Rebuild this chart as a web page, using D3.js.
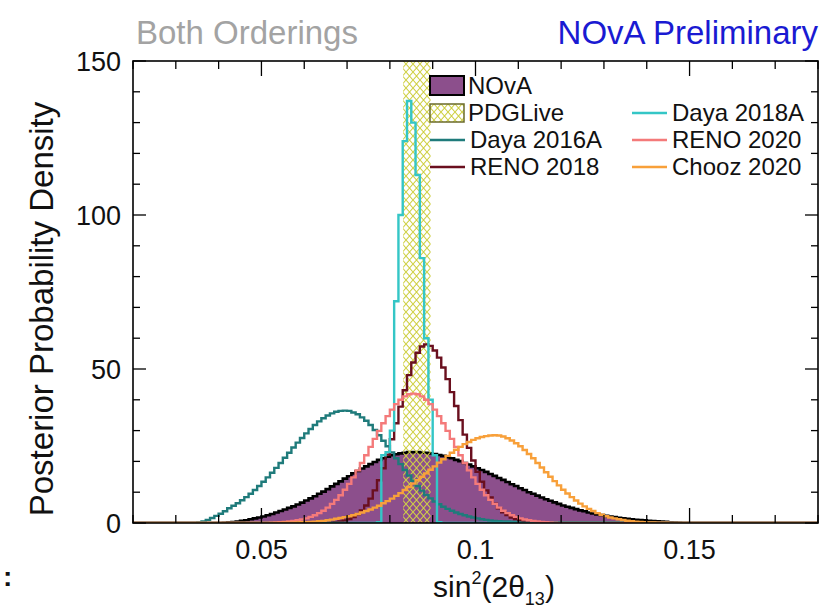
<!DOCTYPE html>
<html><head><meta charset="utf-8">
<script src="https://cdn.jsdelivr.net/npm/d3@7"></script>
<style>
body{margin:0;background:#fff}
svg{display:block}
text{font-family:"Liberation Sans",Arial,Helvetica,sans-serif}
</style>
</head><body>
<svg id="c" width="838" height="614"></svg>
<script>
// ---------------- data ----------------
const xDomain = [0.02, 0.18];
const yDomain = [0, 150];
const binWidth = 0.001;

const xMajorTicks = [0.05, 0.1, 0.15];
const xTickLabels = ["0.05", "0.1", "0.15"];
const yMajorTicks = [0, 50, 100, 150];
const yTickLabels = ["0", "50", "100", "150"];

const pdgBand = [0.0831, 0.0895];

const novaStart = 0.041;
const novaValues = [0.1,0.2,0.3,0.5,0.7,0.9,1.2,1.5,1.8,2.1,2.5,2.9,3.4,3.9,4.4,4.9,5.4,6.0,6.6,7.3,
  8.0,8.7,9.5,10.2,11.0,11.9,12.7,13.5,14.4,15.2,16.1,16.9,17.7,18.4,19.1,19.8,20.5,21.0,21.5,22.0,
  22.3,22.6,22.8,23.0,23.0,
  23.0,22.9,22.8,22.6,22.4,22.1,21.8,21.4,21.0,20.5,20.1,19.5,19.0,18.4,17.8,17.2,16.6,15.9,15.3,14.6,
  14.0,13.3,12.6,12.0,11.3,10.7,10.0,9.5,8.9,8.3,7.7,7.2,6.7,6.2,5.7,5.3,4.9,4.5,4.1,3.8,
  3.4,3.1,2.8,2.6,2.3,2.1,1.9,1.7,1.5,1.35,1.2,1.05,0.95,0.85,0.75,0.65,0.55,0.45,0.35,0.25,0.15,0.1];

const daya2016Start = 0.035;
const daya2016Values = [0.2,0.5,1.0,1.6,2.3,3.0,3.8,4.8,5.6,6.4,7.4,8.4,9.5,10.7,12.0,13.4,14.8,16.3,17.9,19.5,
  21.2,22.8,24.5,26.1,27.6,29.1,30.5,31.8,33.0,34.0,34.9,35.6,36.1,36.4,36.5,
  36.4,35.9,35.3,34.3,33.2,31.8,30.2,28.5,26.7,24.9,22.9,21.0,19.1,17.2,15.4,13.7,12.0,10.5,9.1,
  8.0,7.0,6.1,5.3,4.6,4.0,3.4,2.9,2.5,2.1,1.8,1.5,1.2,1.0,0.8,0.7,0.6,0.5,0.5,0.4,0.4,0.4,
  0.3,0.3,0.3,0.3,0.3,0.3,0.3,0.3,0.3,0.3,0.3,0.3,0.3,0.3,0.3,0.3,0.3,0.3,0.3,0.3,0.3,0.3,0.3,0.3,0.3,0.3];

const daya2018Start = 0.077;
const daya2018Values = [0.3,22,23,30,72,100,124,137,130,113,86,60,40,22,0.3];

const reno2018Start = 0.066;
const reno2018Values = [0.2,0.3,0.5,0.8,1.3,1.9,2.8,4.1,5.7,7.9,10.6,13.9,17.8,22.2,27.2,32.4,37.8,43.1,48.0,52.1,55.3,57.3,
  58.0,
  57.5,56.0,53.7,50.5,46.7,42.5,38.0,33.4,28.7,24.4,20.3,16.6,13.4,10.6,8.3,6.3,4.8,3.5,2.6,1.8,1.3,0.9,0.6,0.4,0.26,0.17,0.1];

const reno2020Start = 0.052;
const reno2020Values = [0.12,0.18,0.25,0.35,0.48,0.65,0.87,1.16,1.5,2.0,2.5,3.2,4.0,5.0,6.2,7.5,9.0,10.8,12.7,14.8,17.1,19.5,22.0,24.7,27.3,29.9,32.4,34.7,36.8,38.6,40.0,41.1,41.8,
  42.0,
  41.8,41.1,40.0,38.6,36.8,34.7,32.4,29.9,27.3,24.7,22.0,19.5,17.1,14.8,12.7,10.8,9.0,7.5,6.2,5.0,4.0,3.2,2.5,2.0,1.5,1.16,0.87,0.65,0.48,0.35,0.25,0.18,0.12];

const chooz2020Start = 0.054;
const chooz2020Values = [0.05,0.07,0.1,0.13,0.17,0.22,0.28,0.35,0.45,0.55,0.7,0.9,1.1,1.4,1.6,1.9,2.2,2.5,2.9,3.4,
  3.9,4.4,5.0,5.6,6.4,7.1,7.9,8.8,9.7,10.7,11.7,12.8,13.9,15.0,16.1,17.3,18.4,19.6,20.7,21.8,
  22.8,23.8,24.7,25.6,26.3,27.0,27.5,27.9,28.2,28.4,
  28.5,
  28.4,28.1,27.5,26.8,25.9,24.9,23.7,22.4,21.0,19.5,18.0,16.5,15.0,13.6,12.2,10.8,9.6,8.4,7.3,6.3,
  5.4,4.6,3.9,3.2,2.7,2.2,1.8,1.5,1.2,0.95,0.75,0.6,0.46,0.36,0.28,0.21,0.16,0.12,0.09,0.06];

const lineSeries = [
  {name: "Daya 2016A", color: "#1f7b7b", start: daya2016Start, values: daya2016Values},
  {name: "RENO 2018",  color: "#6a0f1e", start: reno2018Start, values: reno2018Values},
  {name: "Daya 2018A", color: "#34c6c6", start: daya2018Start, values: daya2018Values},
  {name: "RENO 2020",  color: "#f47a7a", start: reno2020Start, values: reno2020Values},
  {name: "Chooz 2020", color: "#f8a03a", start: chooz2020Start, values: chooz2020Values}
];
const novaColor = "#8c4f8c";

// ---------------- chart ----------------
const svg = d3.select("#c");
const L = 133, R = 818, T = 61, B = 523;
const x = d3.scaleLinear().domain(xDomain).range([L, R]);
const y = d3.scaleLinear().domain(yDomain).range([B, T]);

const defs = svg.append("defs");
defs.append("clipPath").attr("id", "plotclip")
  .append("rect").attr("x", L).attr("y", T).attr("width", R - L).attr("height", B - T);
const pat = defs.append("pattern").attr("id", "hatch")
  .attr("patternUnits", "userSpaceOnUse").attr("width", 7).attr("height", 8);
pat.append("path").attr("d", "M0,0L7,8M7,0L0,8")
  .attr("stroke", "#cfd045").attr("stroke-width", 1.1).attr("fill", "none");

function histPoints(start, values) {
  const pts = [[xDomain[0], 0], [start, 0]];
  values.forEach((v, i) => {
    pts.push([start + i * binWidth, v]);
    pts.push([start + (i + 1) * binWidth, v]);
  });
  pts.push([start + values.length * binWidth, 0]);
  pts.push([xDomain[1], 0]);
  return pts;
}

const plot = svg.append("g").attr("clip-path", "url(#plotclip)");

// NOvA filled histogram
const novaPts = histPoints(novaStart, novaValues);
plot.append("path")
  .attr("d", d3.area().x(d => x(d[0])).y0(y(0)).y1(d => y(d[1]))(novaPts))
  .attr("fill", novaColor);
plot.append("path")
  .attr("d", d3.line().x(d => x(d[0])).y(d => y(d[1]))(novaPts))
  .attr("fill", "none").attr("stroke", "#000").attr("stroke-width", 2.6);

// PDG band
plot.append("rect")
  .attr("x", x(pdgBand[0])).attr("width", x(pdgBand[1]) - x(pdgBand[0]))
  .attr("y", y(yDomain[1])).attr("height", y(0) - y(yDomain[1]))
  .attr("fill", "url(#hatch)");

// line histograms
lineSeries.forEach(s => {
  plot.append("path")
    .attr("d", d3.line().x(d => x(d[0])).y(d => y(d[1]))(histPoints(s.start, s.values)))
    .attr("fill", "none").attr("stroke", s.color).attr("stroke-width", 2.4)
    .attr("stroke-linejoin", "miter");
});

// axes: ticks inward on all sides
const xMinor = d3.range(0.02, 0.1801, 0.01);
const yMinor = d3.range(0, 150.1, 10);
const axG = svg.append("g").attr("stroke", "#000").attr("stroke-width", 1.3);
function isMajor(arr, v) { return arr.some(a => Math.abs(a - v) < 1e-9); }
xMinor.forEach(v => {
  const len = isMajor(xMajorTicks, v) ? 15 : 8;
  axG.append("line").attr("x1", x(v)).attr("x2", x(v)).attr("y1", B).attr("y2", B - len);
  axG.append("line").attr("x1", x(v)).attr("x2", x(v)).attr("y1", T).attr("y2", T + len);
});
yMinor.forEach(v => {
  const len = isMajor(yMajorTicks, v) ? 13 : 7;
  axG.append("line").attr("y1", y(v)).attr("y2", y(v)).attr("x1", L).attr("x2", L + len);
  axG.append("line").attr("y1", y(v)).attr("y2", y(v)).attr("x1", R).attr("x2", R - len);
});
svg.append("rect").attr("x", L).attr("y", T).attr("width", R - L).attr("height", B - T)
  .attr("fill", "none").attr("stroke", "#000").attr("stroke-width", 1.6);

// tick labels
svg.append("g").selectAll("text").data(xMajorTicks).join("text")
  .attr("x", d => x(d)).attr("y", 559).attr("text-anchor", "middle")
  .attr("font-size", 27).attr("fill", "#111").text((d, i) => xTickLabels[i]);
svg.append("g").selectAll("text").data(yMajorTicks).join("text")
  .attr("x", 121).attr("y", d => y(d) + 10).attr("text-anchor", "end")
  .attr("font-size", 27).attr("fill", "#111").text((d, i) => yTickLabels[i]);

// axis titles
svg.append("text").attr("transform", "translate(53,309) rotate(-90)")
  .attr("text-anchor", "middle").attr("font-size", 33).attr("fill", "#111")
  .text("Posterior Probability Density");
const xt = svg.append("text").attr("x", 494).attr("y", 597).attr("text-anchor", "middle")
  .attr("font-size", 30).attr("fill", "#111");
xt.append("tspan").text("sin");
xt.append("tspan").attr("font-size", 18).attr("dy", -13).text("2");
xt.append("tspan").attr("dy", 13).text("(2θ");
xt.append("tspan").attr("font-size", 18).attr("dy", 8).text("13");
xt.append("tspan").attr("dy", -8).text(")");

// headers
svg.append("text").attr("x", 136).attr("y", 44).attr("font-size", 33).attr("fill", "#a3a3a3")
  .text("Both Orderings");
svg.append("text").attr("x", 818).attr("y", 44).attr("text-anchor", "end").attr("font-size", 33)
  .attr("fill", "#1a1ad2").text("NOvA Preliminary");

// legend
const lg = svg.append("g");
lg.append("rect").attr("x", 430).attr("y", 76).attr("width", 34).attr("height", 19)
  .attr("fill", novaColor).attr("stroke", "#000").attr("stroke-width", 2);
lg.append("text").attr("x", 468).attr("y", 94).attr("font-size", 24).attr("fill", "#111").text("NOvA");
lg.append("rect").attr("x", 430).attr("y", 104).attr("width", 34).attr("height", 18)
  .attr("fill", "url(#hatch)").attr("stroke", "#6b6b2a").attr("stroke-width", 1.5);
lg.append("text").attr("x", 468).attr("y", 121).attr("font-size", 24).attr("fill", "#111").text("PDGLive");
const legendPos = {
  "Daya 2016A": [430, 140], "RENO 2018": [430, 167],
  "Daya 2018A": [632, 113], "RENO 2020": [632, 140], "Chooz 2020": [632, 167]
};
lineSeries.forEach(s => {
  const [lx, ly] = legendPos[s.name];
  lg.append("line").attr("x1", lx).attr("x2", lx + 35).attr("y1", ly).attr("y2", ly)
    .attr("stroke", s.color).attr("stroke-width", 2.4);
  lg.append("text").attr("x", lx + 40).attr("y", ly + 8).attr("font-size", 24).attr("fill", "#111").text(s.name);
});

// stray mark at lower left
svg.append("text").attr("x", 3).attr("y", 586).attr("font-size", 28).attr("font-weight", "bold")
  .attr("fill", "#111").text(":");
</script>
</body></html>
